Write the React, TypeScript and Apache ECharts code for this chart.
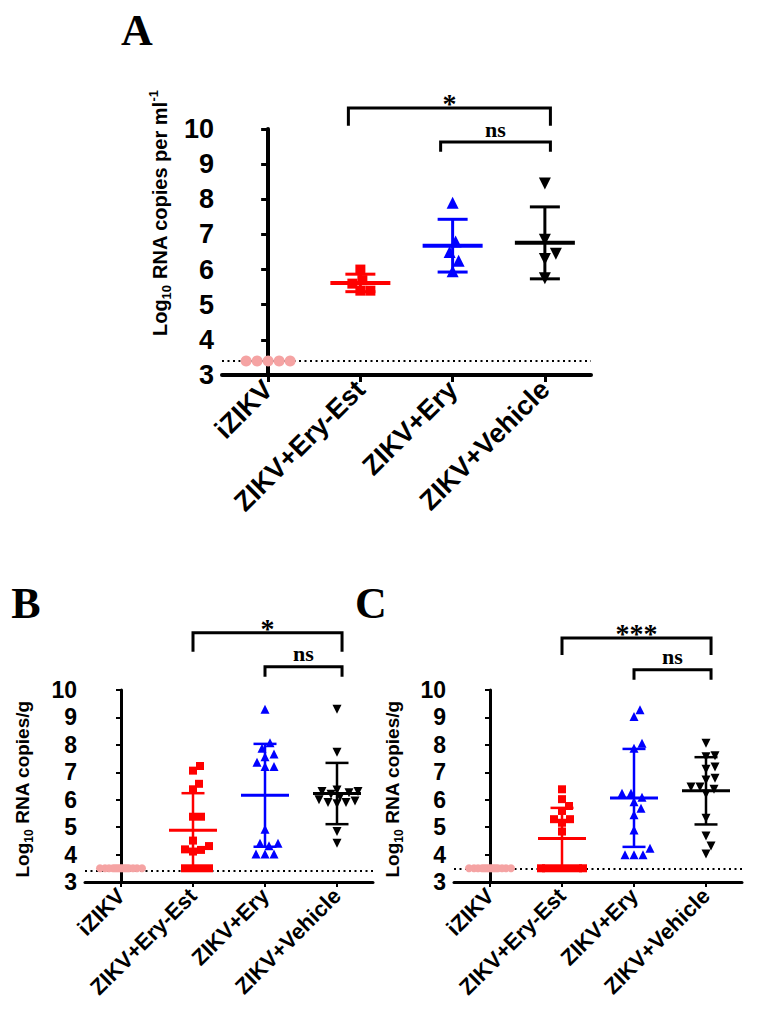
import React, { useEffect, useRef } from 'react';
import * as echarts from 'echarts';

// ---------- data ----------
const CATEGORIES = ['iZIKV', 'ZIKV+Ery-Est', 'ZIKV+Ery', 'ZIKV+Vehicle'];
const Y_MIN = 3;
const Y_MAX = 10;
const Y_STEP = 1;

// Panel A (serum, Log10 RNA copies per ml)
const A_IZIKV = [3.4, 3.4, 3.4, 3.4, 3.4];
const A_ERY_EST = [6.0, 5.6, 5.4, 5.4, 5.7];
const A_ERY = [7.9, 6.8, 6.5, 6.25, 5.95];
const A_VEHICLE = [8.45, 6.85, 6.45, 6.3, 5.75];
const A_LOD = 3.4;
const A_BRACKETS = [
  { from: 1, to: 3, label: '*', top: 10.6, leg: 10.09 },
  { from: 2, to: 3, label: 'ns', top: 9.63, leg: 9.35 },
];

// Panel B (Log10 RNA copies/g)
const B_IZIKV = [3.5, 3.5, 3.5, 3.5, 3.5, 3.5, 3.5, 3.5, 3.5, 3.5, 3.5, 3.5, 3.5, 3.5, 3.5];
const B_ERY_EST = [7.23, 7.06, 6.58, 6.38, 5.38, 5.38, 4.51, 4.31, 4.19, 4.17, 4.11, 3.5, 3.5, 3.5, 3.5];
const B_ERY = [9.3, 8.08, 7.88, 7.67, 7.57, 7.37, 7.21, 7.21, 4.92, 4.41, 4.41, 4.32, 4.02, 4.02, 4.02];
const B_VEHICLE = [9.3, 7.73, 6.35, 6.3, 6.3, 6.25, 6.2, 6.1, 6.0, 5.95, 5.9, 5.9, 5.85, 4.84, 4.41];
const B_LOD = 3.4;
const B_BRACKETS = [
  { from: 1, to: 3, label: '*', top: 12.09, leg: 11.39 },
  { from: 2, to: 3, label: 'ns', top: 10.85, leg: 10.48 },
];

// Panel C (Log10 RNA copies/g)
const C_IZIKV = [3.5, 3.5, 3.5, 3.5, 3.5, 3.5, 3.5, 3.5, 3.5, 3.5, 3.5, 3.5, 3.5, 3.5, 3.5];
const C_ERY_EST = [6.38, 6.02, 5.77, 5.59, 5.29, 5.29, 5.16, 4.84, 3.5, 3.5, 3.5, 3.5, 3.5, 3.5, 3.5];
const C_ERY = [9.28, 9.03, 8.06, 7.88, 6.24, 6.24, 6.09, 5.93, 5.69, 5.45, 4.9, 4.23, 3.99, 3.99, 3.99];
const C_VEHICLE = [8.06, 7.6, 7.57, 7.19, 7.11, 6.78, 6.72, 6.46, 6.46, 6.38, 6.21, 5.32, 4.68, 4.31, 4.02];
const C_LOD = 3.5;
const C_BRACKETS = [
  { from: 1, to: 3, label: '***', top: 11.9, leg: 11.28 },
  { from: 2, to: 3, label: 'ns', top: 10.74, leg: 10.37 },
];

// ---------- styles ----------
const SANS = '"Liberation Sans", Arial, Helvetica, sans-serif';
const SERIF = '"Liberation Serif", "Times New Roman", serif';
const COLORS = ['#F5A3A3', '#FF0000', '#0000FF', '#000000'];
const SYMBOLS = ['circle', 'rect', 'triangle', 'triangle'];
const ROTATES = [0, 0, 0, 180];

type Panel = {
  letter: string;
  letterPos: [number, number];
  nameRich: string;
  namePos: [number, number];
  nameSize: number;
  grid: { left: number; top: number; width: number; height: number };
  groups: number[][];
  lod: number;
  brackets: { from: number; to: number; label: string; top: number; leg: number }[];
  brL: number;
  brR: number;
  sym: number[];
  tickFont: number;
  catFont: number;
  axisW: number;
  tickLen: number;
  meanHalf: number;
  capHalf: number;
  meanW: number;
  sdW: number;
  swarmHalf: number;
  brW: number;
};

const PANELS: Panel[] = [
  {
    letter: 'A', letterPos: [137, 30],
    nameRich: '{a|Log}{s|10}{a| RNA copies per ml}{p|-1}',
    namePos: [160, 213], nameSize: 20,
    grid: { left: 222, top: 129, width: 369, height: 246 },
    groups: [A_IZIKV, A_ERY_EST, A_ERY, A_VEHICLE],
    lod: A_LOD, brackets: A_BRACKETS, brL: -0.13, brR: 0.06,
    sym: [11, 10, 12, 12], tickFont: 27, catFont: 27, axisW: 4, tickLen: 7,
    meanHalf: 30, capHalf: 15, meanW: 4, sdW: 3, swarmHalf: 25, brW: 3,
  },
  {
    letter: 'B', letterPos: [26, 603],
    nameRich: '{a|Log}{s|10}{a| RNA copies/g}',
    namePos: [22, 789], nameSize: 19,
    grid: { left: 85, top: 690, width: 288, height: 192 },
    groups: [B_IZIKV, B_ERY_EST, B_ERY, B_VEHICLE],
    lod: B_LOD, brackets: B_BRACKETS, brL: 0.0, brR: 0.07,
    sym: [8, 8, 9, 9], tickFont: 23, catFont: 22, axisW: 3, tickLen: 5,
    meanHalf: 24, capHalf: 11.5, meanW: 3, sdW: 2.5, swarmHalf: 21, brW: 3,
  },
  {
    letter: 'C', letterPos: [371, 603],
    nameRich: '{a|Log}{s|10}{a| RNA copies/g}',
    namePos: [392, 789], nameSize: 19,
    grid: { left: 454, top: 690, width: 288, height: 192 },
    groups: [C_IZIKV, C_ERY_EST, C_ERY, C_VEHICLE],
    lod: C_LOD, brackets: C_BRACKETS, brL: 0.0, brR: 0.07,
    sym: [8, 8, 9, 9], tickFont: 23, catFont: 22, axisW: 3, tickLen: 5,
    meanHalf: 24, capHalf: 11.5, meanW: 3, sdW: 2.5, swarmHalf: 21, brW: 3,
  },
];

// ---------- helpers ----------
function mean(a: number[]) {
  return a.reduce((s, v) => s + v, 0) / a.length;
}
function sd(a: number[]) {
  const m = mean(a);
  return Math.sqrt(a.reduce((s, v) => s + (v - m) * (v - m), 0) / (a.length - 1));
}

// GraphPad-like scatter-dot layout (beeswarm, limited to the column width)
function swarm(values: number[], pxPerY: number, bandPx: number, sym: number, maxHalf: number) {
  const order = values.map((_, i) => i).sort((a, b) => values[a] - values[b]);
  const placed: { x: number; y: number }[] = [];
  const out = new Array(values.length).fill(0);
  const cands: number[] = [0];
  for (let d = 1; d <= maxHalf; d++) {
    cands.push(d);
    cands.push(-d);
  }
  const min2 = sym * sym;
  for (const i of order) {
    const y = values[i] * pxPerY;
    let chosen: number | null = null;
    for (const c of cands) {
      let ok = true;
      for (const p of placed) {
        const dx = c - p.x;
        const dy = y - p.y;
        if (dx * dx + dy * dy < min2) {
          ok = false;
          break;
        }
      }
      if (ok) {
        chosen = c;
        break;
      }
    }
    if (chosen === null) {
      let best = 0;
      let bestD = -1;
      for (const c of cands) {
        let md = Infinity;
        for (const p of placed) {
          const dx = c - p.x;
          const dy = y - p.y;
          md = Math.min(md, dx * dx + dy * dy);
        }
        if (md > bestD) {
          bestD = md;
          best = c;
        }
      }
      chosen = best;
    }
    placed.push({ x: chosen, y });
    out[i] = chosen / bandPx;
  }
  return out;
}

function buildOption() {
  const grids: any[] = [];
  const xAxes: any[] = [];
  const yAxes: any[] = [];
  const series: any[] = [];
  const graphics: any[] = [];

  PANELS.forEach((P, p) => {
    const bandPx = P.grid.width / CATEGORIES.length;
    const pxPerY = P.grid.height / (Y_MAX - Y_MIN);
    grids.push({ ...P.grid, containLabel: false });

    // visible category axis
    xAxes.push({
      type: 'category',
      gridIndex: p,
      data: CATEGORIES,
      boundaryGap: true,
      axisLine: { show: true, lineStyle: { color: '#000', width: P.axisW } },
      axisTick: { show: true, alignWithLabel: true, length: P.tickLen, lineStyle: { color: '#000', width: P.axisW - 1 } },
      axisLabel: {
        interval: 0,
        rotate: 45,
        margin: 10,
        color: '#000',
        fontFamily: SANS,
        fontWeight: 'bold',
        fontSize: P.catFont,
      },
      splitLine: { show: false },
    });
    // hidden value axis for positioning points inside each column
    xAxes.push({
      type: 'value',
      gridIndex: p,
      min: -0.5,
      max: 3.5,
      show: false,
      splitLine: { show: false },
    });
    yAxes.push({
      type: 'value',
      gridIndex: p,
      min: Y_MIN,
      max: Y_MAX,
      interval: Y_STEP,
      axisLine: { show: true, lineStyle: { color: '#000', width: P.axisW } },
      axisTick: { show: true, length: P.tickLen, lineStyle: { color: '#000', width: P.axisW - 1 } },
      axisLabel: {
        color: '#000',
        fontFamily: SANS,
        fontWeight: 'bold',
        fontSize: P.tickFont,
        margin: 8,
      },
      splitLine: { show: false },
    });

    const xi = 2 * p + 1;

    P.groups.forEach((vals, g) => {
      const offs = swarm(vals, pxPerY, bandPx, P.sym[g], P.swarmHalf);
      const s: any = {
        type: 'scatter',
        name: P.letter + ' ' + CATEGORIES[g],
        xAxisIndex: xi,
        yAxisIndex: p,
        symbol: SYMBOLS[g],
        symbolSize: P.sym[g],
        symbolRotate: ROTATES[g],
        itemStyle: { color: COLORS[g], opacity: 1 },
        data: vals.map((v, k) => [g + offs[k], v]),
        z: 3,
      };
      if (g === 0) {
        s.markLine = {
          silent: true,
          symbol: 'none',
          label: { show: false },
          lineStyle: { color: '#000', width: 2, type: [2, 3.5] },
          data: [{ yAxis: P.lod }],
          z: 1,
        };
      }
      series.push(s);
    });

    // mean +/- SD
    const stats = P.groups.map((vals, g) => [g, mean(vals), sd(vals)]).filter((d) => d[0] !== 0);
    series.push({
      type: 'custom',
      name: P.letter + ' mean SD',
      xAxisIndex: xi,
      yAxisIndex: p,
      z: 4,
      data: stats,
      renderItem: (params: any, api: any) => {
        const g = api.value(0);
        const m = api.value(1);
        const s = api.value(2);
        const [cx, cy] = api.coord([g, m]);
        const top = api.coord([g, m + s])[1];
        const bot = api.coord([g, m - s])[1];
        const c = COLORS[g];
        return {
          type: 'group',
          children: [
            { type: 'line', shape: { x1: cx, y1: top, x2: cx, y2: bot }, style: { stroke: c, lineWidth: P.sdW } },
            { type: 'line', shape: { x1: cx - P.capHalf, y1: top, x2: cx + P.capHalf, y2: top }, style: { stroke: c, lineWidth: P.sdW } },
            { type: 'line', shape: { x1: cx - P.capHalf, y1: bot, x2: cx + P.capHalf, y2: bot }, style: { stroke: c, lineWidth: P.sdW } },
            { type: 'line', shape: { x1: cx - P.meanHalf, y1: cy, x2: cx + P.meanHalf, y2: cy }, style: { stroke: c, lineWidth: P.meanW } },
          ],
        };
      },
    });

    // significance brackets
    series.push({
      type: 'custom',
      name: P.letter + ' brackets',
      xAxisIndex: xi,
      yAxisIndex: p,
      z: 5,
      clip: false,
      data: P.brackets.map((b) => [b.from + P.brL, b.to + P.brR, b.top, b.leg]),
      renderItem: (params: any, api: any) => {
        const x1 = api.value(0);
        const x2 = api.value(1);
        const t = api.value(2);
        const l = api.value(3);
        const a = api.coord([x1, l]);
        const b = api.coord([x1, t]);
        const c = api.coord([x2, t]);
        const d = api.coord([x2, l]);
        const label = P.brackets[params.dataIndex].label;
        const star = label.indexOf('*') >= 0;
        return {
          type: 'group',
          children: [
            {
              type: 'polyline',
              shape: { points: [a, b, c, d] },
              style: { stroke: '#000', lineWidth: P.brW, fill: 'none' },
            },
            {
              type: 'text',
              style: {
                text: label,
                x: (b[0] + c[0]) / 2,
                y: star ? b[1] + 10 : b[1] - 2,
                align: 'center',
                verticalAlign: 'bottom',
                font: star ? `bold 28px ${SERIF}` : `bold 22px ${SERIF}`,
                fill: '#000',
              },
            },
          ],
        };
      },
    });

    // panel letter
    graphics.push({
      type: 'text',
      x: P.letterPos[0],
      y: P.letterPos[1],
      style: {
        text: P.letter,
        font: `bold 44px ${SERIF}`,
        fill: '#000',
        align: 'center',
        verticalAlign: 'middle',
      },
    });
    // y-axis title with sub/superscript
    const fs = P.nameSize;
    graphics.push({
      type: 'text',
      x: P.namePos[0],
      y: P.namePos[1],
      rotation: Math.PI / 2,
      style: {
        text: P.nameRich,
        align: 'center',
        verticalAlign: 'middle',
        fill: '#000',
        rich: {
          a: { fontSize: fs, fontWeight: 'bold', fontFamily: SANS, lineHeight: fs + 6, fill: '#000' },
          s: { fontSize: Math.round(fs * 0.65), fontWeight: 'bold', fontFamily: SANS, lineHeight: Math.round(fs * 0.65), verticalAlign: 'bottom', fill: '#000' },
          p: { fontSize: Math.round(fs * 0.65), fontWeight: 'bold', fontFamily: SANS, lineHeight: Math.round(fs * 0.65), verticalAlign: 'top', fill: '#000' },
        },
      },
    });
  });

  return {
    animation: false,
    backgroundColor: '#ffffff',
    grid: grids,
    xAxis: xAxes,
    yAxis: yAxes,
    series,
    graphic: graphics,
  };
}

export default function App() {
  const ref = useRef<HTMLDivElement>(null);
  useEffect(() => {
    if (!ref.current) return;
    const chart = echarts.init(ref.current, undefined, { renderer: 'svg' });
    chart.setOption(buildOption() as any);
    return () => chart.dispose();
  }, []);
  return (
    <div
      ref={ref}
      style={{ position: 'absolute', left: 0, top: 0, width: 759, height: 1017, background: '#fff' }}
    />
  );
}
